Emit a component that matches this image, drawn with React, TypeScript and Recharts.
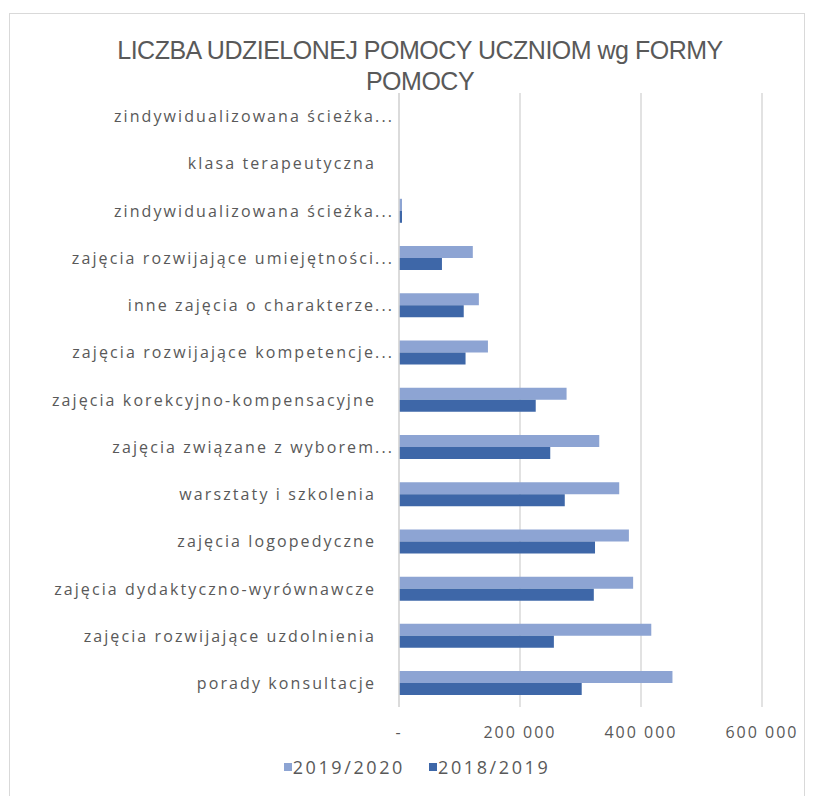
import React from 'react';
import { BarChart, Bar, XAxis, YAxis, CartesianGrid, Legend } from 'recharts';

const categories = [
  'zindywidualizowana ścieżka...',
  'klasa terapeutyczna',
  'zindywidualizowana ścieżka...',
  'zajęcia rozwijające umiejętności...',
  'inne zajęcia o charakterze...',
  'zajęcia rozwijające kompetencje...',
  'zajęcia korekcyjno-kompensacyjne',
  'zajęcia związane z wyborem...',
  'warsztaty i szkolenia',
  'zajęcia logopedyczne',
  'zajęcia dydaktyczno-wyrównawcze',
  'zajęcia rozwijające uzdolnienia',
  'porady konsultacje',
];
const sales1920 = [0, 0, 5000, 122000, 132000, 147000, 277000, 331000, 364000, 380000, 387000, 417000, 452000];
const sales1819 = [0, 0, 5000, 71000, 107000, 110000, 226000, 250000, 274000, 324000, 322000, 256000, 302000];
const xTicks = [0, 200000, 400000, 600000];
const seriesNames = ['2019/2020', '2018/2019'];

const LIGHT = '#8da4d3';
const DARK = '#3e67a8';

const data = categories.map((name, i) => ({
  name,
  [seriesNames[0]]: sales1920[i],
  [seriesNames[1]]: sales1819[i],
}));

const fmt = (v: number) =>
  v === 0 ? '-' : v.toLocaleString('en-US').replace(/,/g, ' ');

const CategoryTick = (props: any) => {
  const { x, y, payload } = props;
  const label: string = payload.value;
  const shift = label.endsWith('...') ? 3 : -15;
  return (
    <text
      x={x + shift}
      y={y}
      dy="0.35em"
      textAnchor="end"
      fill="#595959"
      fontSize={16}
      letterSpacing={2.1}
      fontFamily="'Open Sans', sans-serif"
    >
      {label}
    </text>
  );
};

const LegendContent = () => (
  <div
    style={{
      display: 'flex',
      justifyContent: 'center',
      gap: 24,
      height: 30,
      alignItems: 'center',
      fontFamily: "'Open Sans', sans-serif",
      fontSize: 18,
      letterSpacing: 2.6,
      color: '#595959',
      paddingLeft: 72,
    }}
  >
    {seriesNames.map((s, i) => (
      <div key={s} style={{ display: 'flex', alignItems: 'center', gap: 1 }}>
        <div style={{ width: 8, height: 8, background: i === 0 ? LIGHT : DARK }} />
        <span>{s}</span>
      </div>
    ))}
  </div>
);

export default function App() {
  return (
    <div style={{ position: 'absolute', left: 0, top: 0, width: 813, height: 796, background: '#fff' }}>
      <div
        style={{
          position: 'absolute',
          left: 9,
          top: 13,
          width: 796,
          height: 800,
          border: '1px solid #d9d9d9',
          boxSizing: 'border-box',
        }}
      />
      <div
        style={{
          position: 'absolute',
          left: 0,
          width: 840,
          top: 35,
          textAlign: 'center',
          fontFamily: "'Liberation Sans Narrow', 'Liberation Sans', sans-serif",
          fontSize: 25,
          letterSpacing: -0.5,
          lineHeight: '31px',
          color: '#595959',
        }}
      >
        LICZBA UDZIELONEJ POMOCY UCZNIOM wg FORMY
        <br />
        POMOCY
      </div>
      <BarChart
        layout="vertical"
        width={813}
        height={796}
        data={data}
        margin={{ top: 93, right: 51, left: 0, bottom: 14 }}
        barCategoryGap="24%"
        barGap={0}
        style={{ position: 'absolute', left: 0, top: 0 }}
      >
        <CartesianGrid horizontal={false} stroke="#d9d9d9" strokeWidth={1.5} />
        <XAxis
          type="number"
          domain={[0, 600000]}
          ticks={xTicks}
          tickFormatter={fmt}
          axisLine={false}
          tickLine={false}
          tickSize={0}
          tickMargin={20}
          height={45}
          tick={{ fill: '#595959', fontSize: 16, letterSpacing: 2, fontFamily: "'Open Sans', sans-serif" }}
        />
        <YAxis
          type="category"
          dataKey="name"
          width={399}
          axisLine={{ stroke: '#d9d9d9', strokeWidth: 1.5 }}
          tickLine={false}
          tick={<CategoryTick />}
          interval={0}
        />
        <Legend verticalAlign="bottom" content={<LegendContent />} />
        <Bar dataKey={seriesNames[0]} fill={LIGHT} isAnimationActive={false} />
        <Bar dataKey={seriesNames[1]} fill={DARK} isAnimationActive={false} />
      </BarChart>
    </div>
  );
}
